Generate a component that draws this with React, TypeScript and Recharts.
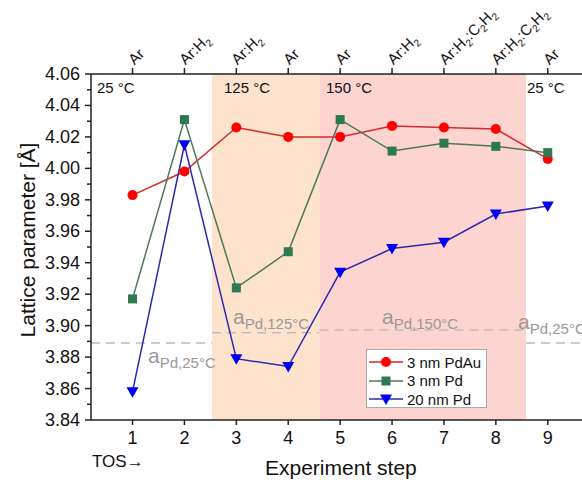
import React from 'react';
import { ComposedChart, Line, XAxis, YAxis, ReferenceArea, ReferenceLine } from 'recharts';

const steps = [1, 2, 3, 4, 5, 6, 7, 8, 9];
const gasLabels = ['Ar', 'Ar:H2', 'Ar:H2', 'Ar', 'Ar', 'Ar:H2', 'Ar:H2:C2H2', 'Ar:H2:C2H2', 'Ar'];
const pdAu3nm = [3.983, 3.998, 4.026, 4.02, 4.02, 4.027, 4.026, 4.025, 4.006];
const pd3nm = [3.917, 4.031, 3.924, 3.947, 4.031, 4.011, 4.016, 4.014, 4.01];
const pd20nm = [3.858, 4.015, 3.879, 3.874, 3.934, 3.949, 3.953, 3.971, 3.976];

const yTicks = [
  3.84, 3.85, 3.86, 3.87, 3.88, 3.89, 3.9, 3.91, 3.92, 3.93, 3.94, 3.95,
  3.96, 3.97, 3.98, 3.99, 4.0, 4.01, 4.02, 4.03, 4.04, 4.05, 4.06,
];
const xDomain = [0.2, 9.66];
const yDomain = [3.84, 4.06];

// heated zones (x range in experiment-step units)
const zoneStart = [2.53, 4.6];
const zoneEnd = [4.6, 8.58];
const zoneColors = ['#fde2cc', '#fdd4d0'];

// reference Pd lattice parameters
const refFrom = [0.2, 2.53, 4.6, 8.58];
const refTo = [2.53, 4.6, 8.58, 9.66];
const refValue = [3.889, 3.8955, 3.8973, 3.889];

const data = steps.map((s, i) => ({ step: s, pdAu: pdAu3nm[i], pd3: pd3nm[i], pd20: pd20nm[i] }));

const series = [
  { key: 'pdAu', name: '3 nm PdAu', line: '#d42a2a', marker: '#ff0000', shape: 'circle' },
  { key: 'pd3', name: '3 nm Pd', line: '#4a7a55', marker: '#2e7a50', shape: 'square' },
  { key: 'pd20', name: '20 nm Pd', line: '#2b2bb0', marker: '#0000f0', shape: 'triangle' },
];

const FONT = '"Liberation Sans", Arial, sans-serif';
const AXIS = '#222';

function Marker({ shape, cx, cy, color }: any) {
  if (shape === 'circle') return <circle cx={cx} cy={cy} r={5} fill={color} />;
  if (shape === 'square') return <rect x={cx - 4.5} y={cy - 4.5} width={9} height={9} fill={color} />;
  return <polygon points={`${cx - 6},${cy - 4.5} ${cx + 6},${cy - 4.5} ${cx},${cy + 6}`} fill={color} />;
}

function gasParts(label: string) {
  const parts = label.split(/(\d)/).filter((p) => p !== '');
  return parts.map((p, i) =>
    /^\d$/.test(p) ? (
      <span key={i} style={{ fontSize: 10, position: 'relative', top: 4 }}>{p}</span>
    ) : (
      <span key={i}>{p}</span>
    )
  );
}

// rotated gas label; bottom-left corner of the text box sits at the tick
function TopTick({ x, y, payload }: any) {
  const label = gasLabels[steps.indexOf(payload.value)];
  const tx = Number(x);
  const ty = Number(y);
  return (
    <foreignObject x={tx + 3} y={ty - 100} width={120} height={110} style={{ overflow: 'visible' }}>
      <div
        style={{
          position: 'absolute', left: 0, top: 86, height: 15, fontSize: 15, fontFamily: FONT, color: '#111',
          whiteSpace: 'nowrap', lineHeight: 1, transform: 'rotate(-45deg)', transformOrigin: '0 100%',
        }}
      >
        {gasParts(label)}
      </div>
    </foreignObject>
  );
}

function YTick({ x, y, payload, index }: any) {
  const axisX = x + 11;
  const major = index % 2 === 0;
  return (
    <g>
      <line x1={axisX - (major ? 6 : 4)} x2={axisX} y1={y} y2={y} stroke={AXIS} strokeWidth={1.5} />
      {major && (
        <text x={x} y={y} dy={6} textAnchor="end" fontSize={18} fontFamily={FONT} fill="#111">
          {payload.value.toFixed(2)}
        </text>
      )}
    </g>
  );
}

function Overlay({ left, top, size, color = '#111', children }: any) {
  return (
    <div style={{ position: 'absolute', left, top, fontSize: size, color, fontFamily: FONT, whiteSpace: 'nowrap', lineHeight: 1 }}>
      {children}
    </div>
  );
}

function RefLabel({ left, top, temp }: any) {
  return (
    <Overlay left={left} top={top} size={21} color="#999">
      a<sub style={{ fontSize: 15, verticalAlign: 'baseline', position: 'relative', top: 5 }}>Pd,{temp}°C</sub>
    </Overlay>
  );
}

export default function App() {
  return (
    <div style={{ position: 'absolute', left: 0, top: 0, width: 582, height: 480, overflow: 'hidden', fontFamily: FONT }}>
      <ComposedChart width={582} height={480} data={data} margin={{ top: 0, right: 0, bottom: 0, left: 0 }}>
        {zoneStart.map((s, i) => (
          <ReferenceArea key={`z${i}`} x1={s} x2={zoneEnd[i]} y1={yDomain[0]} y2={yDomain[1]} xAxisId="bottom" fill={zoneColors[i]} fillOpacity={1} stroke="none" />
        ))}
        {refValue.map((v, i) => (
          <ReferenceLine
            key={`r${i}`}
            xAxisId="bottom"
            segment={[{ x: refFrom[i], y: v }, { x: refTo[i], y: v }]}
            stroke="#bdbdbd"
            strokeWidth={1.5}
            strokeDasharray="9 6"
          />
        ))}
        <XAxis
          xAxisId="bottom"
          dataKey="step"
          type="number"
          domain={xDomain}
          ticks={steps}
          height={60}
          tickSize={5}
          tickMargin={6}
          stroke={AXIS}
          strokeWidth={1.5}
          tick={{ fontSize: 18, fill: '#111', fontFamily: FONT }}
          allowDataOverflow
        />
        <XAxis
          xAxisId="top"
          orientation="top"
          dataKey="step"
          type="number"
          domain={xDomain}
          ticks={steps}
          height={74}
          tickSize={6}
          tickMargin={2}
          stroke={AXIS}
          strokeWidth={1.5}
          tick={<TopTick />}
          allowDataOverflow
        />
        <YAxis
          type="number"
          domain={yDomain}
          ticks={yTicks}
          width={91}
          tickSize={6}
          tickMargin={5}
          tickLine={false}
          interval={0}
          stroke={AXIS}
          strokeWidth={1.5}
          tick={<YTick />}
          allowDataOverflow
        />
        {series.map((s) => (
          <Line
            key={s.key}
            xAxisId="bottom"
            dataKey={s.key}
            name={s.name}
            stroke={s.line}
            strokeWidth={1.5}
            isAnimationActive={false}
            dot={(p: any) => <Marker key={`${s.key}-${p.index}`} shape={s.shape} cx={p.cx} cy={p.cy} color={s.marker} />}
            activeDot={false}
          />
        ))}
      </ComposedChart>

      <div
        style={{
          position: 'absolute', left: 27, top: 240, transform: 'translate(-50%,-50%) rotate(-90deg)',
          fontSize: 21, color: '#111', whiteSpace: 'nowrap', lineHeight: 1,
        }}
      >
        Lattice parameter [Å]
      </div>
      <Overlay left={265} top={457} size={21}>Experiment step</Overlay>
      <Overlay left={92} top={453} size={17}>TOS→</Overlay>

      <Overlay left={97} top={80} size={15}>25 °C</Overlay>
      <Overlay left={224} top={80} size={15}>125 °C</Overlay>
      <Overlay left={326} top={80} size={15}>150 °C</Overlay>
      <Overlay left={527} top={80} size={15}>25 °C</Overlay>

      <RefLabel left={148} top={345} temp={25} />
      <RefLabel left={233} top={306} temp={125} />
      <RefLabel left={382} top={306} temp={150} />
      <RefLabel left={518} top={311} temp={25} />

      <div
        style={{
          position: 'absolute', left: 366, top: 349, width: 121, height: 59, background: '#fff',
          border: '1px solid #aaa', padding: '3px 0 0 2px', boxSizing: 'border-box',
        }}
      >
        {series.map((s) => (
          <div key={s.key} style={{ display: 'flex', alignItems: 'center', height: 18.5, whiteSpace: 'nowrap' }}>
            <svg width={34} height={14} style={{ flexShrink: 0 }}>
              <line x1={0} x2={34} y1={7} y2={7} stroke={s.line} strokeWidth={1.5} />
              <Marker shape={s.shape} cx={17} cy={7} color={s.marker} />
            </svg>
            <span style={{ fontSize: 15, color: '#111', marginLeft: 4, lineHeight: 1 }}>{s.name}</span>
          </div>
        ))}
      </div>
    </div>
  );
}
